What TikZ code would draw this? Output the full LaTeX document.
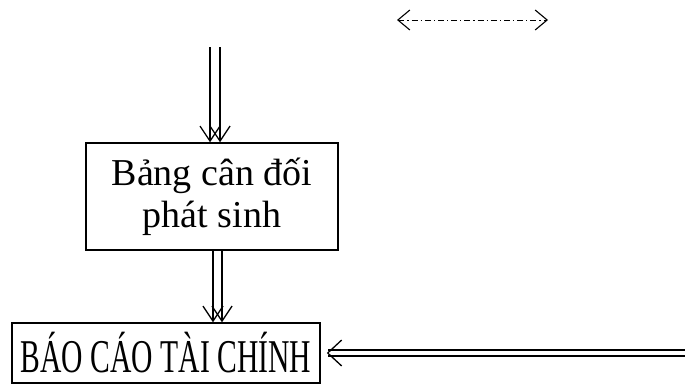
\documentclass[tikz,border=0pt]{standalone}
\usepackage{fontspec}
\setmainfont{Liberation Serif}
\newfontfamily\narrowserif[FakeStretch=0.63]{Liberation Serif}
\usetikzlibrary{arrows.meta}
\tikzset{
  boxnode/.style={draw, line width=1.5pt, inner sep=0pt, align=center},
  flowline/.style={line width=1.4pt, -{Straight Barb[length=15pt,width=20pt,line width=1.3pt]}},
  dashdotarrow/.style={line width=0.9pt, dash pattern=on 6pt off 3pt on 1.2pt off 3pt,
    {Straight Barb[length=12pt,width=20pt,line width=1.1pt]}-{Straight Barb[length=12pt,width=20pt,line width=1.1pt]}},
  dbl/.style={line width=1.4pt, double distance=4.5pt, -{Straight Barb[length=14pt,width=26pt,line width=1.3pt]}}
}
\begin{document}
\begin{tikzpicture}[x=1pt,y=-1pt]
\useasboundingbox (0,0) rectangle (685,386);
\node[boxnode, minimum width=252pt, minimum height=107pt,
  font=\fontsize{38}{42}\selectfont] (b1) at (212,196.5)
  {Bảng cân đối\\ phát sinh};
\node[boxnode, minimum width=308pt, minimum height=60pt,
  font=\narrowserif\fontsize{47}{50}\selectfont] (b2) at (166,353)
  {BÁO CÁO TÀI CHÍNH};
\coordinate (t1) at (210,47);
\coordinate (t2) at (220,47);
\draw[flowline] (t1) -- (t1 |- b1.north);
\draw[flowline] (t2) -- (t2 |- b1.north);
\coordinate (m1) at (213,250);
\coordinate (m2) at (222,250);
\draw[flowline] (m1 |- b1.south) -- (m1 |- b2.north);
\draw[flowline] (m2 |- b1.south) -- (m2 |- b2.north);
\coordinate (r) at (686,353);
\draw[dbl, shorten >=6pt] (r) -- (b2.east);
\coordinate (da) at (397,20);
\coordinate (db) at (548,20);
\draw[dashdotarrow] (da) -- (db);
\end{tikzpicture}
\end{document}
